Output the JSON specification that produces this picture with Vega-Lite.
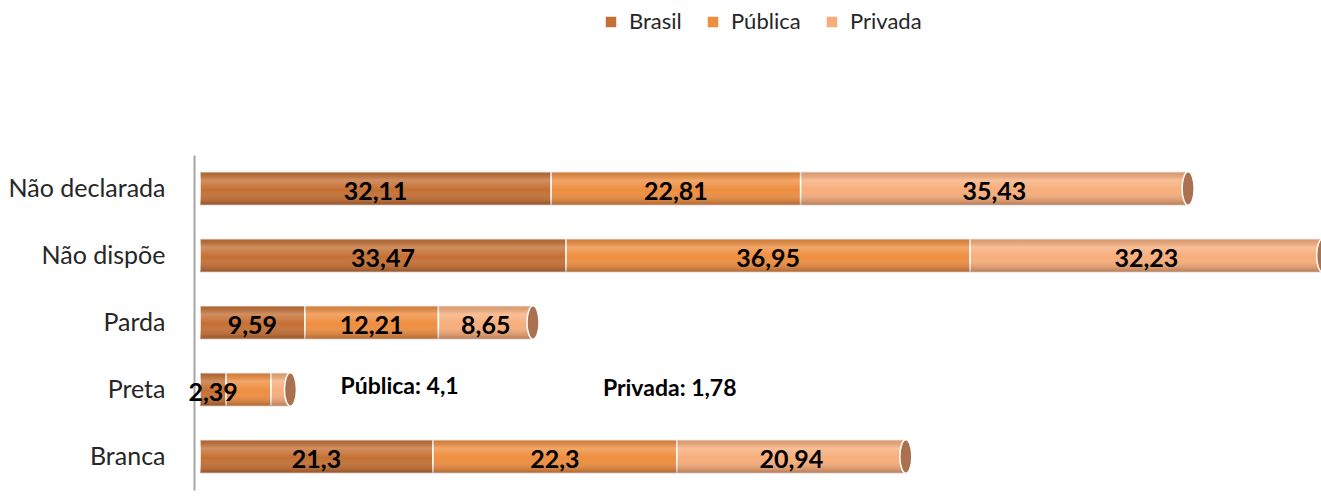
{
  "$schema": "https://vega.github.io/schema/vega-lite/v6.json",
  "width": 1121,
  "height": 335,
  "autosize": {"type": "none"},
  "padding": {"left": 200, "top": 155, "right": 0, "bottom": 6},
  "background": "white",
  "config": {"view": {"stroke": null}, "font": "Lato"},
  "data": {
    "values": [
      {"cat": "Não declarada", "series": "Brasil", "order": 1, "value": 32.11, "label": "32,11"},
      {"cat": "Não declarada", "series": "Pública", "order": 2, "value": 22.81, "label": "22,81"},
      {"cat": "Não declarada", "series": "Privada", "order": 3, "value": 35.43, "label": "35,43"},
      {"cat": "Não dispõe", "series": "Brasil", "order": 1, "value": 33.47, "label": "33,47"},
      {"cat": "Não dispõe", "series": "Pública", "order": 2, "value": 36.95, "label": "36,95"},
      {"cat": "Não dispõe", "series": "Privada", "order": 3, "value": 32.23, "label": "32,23"},
      {"cat": "Parda", "series": "Brasil", "order": 1, "value": 9.59, "label": "9,59"},
      {"cat": "Parda", "series": "Pública", "order": 2, "value": 12.21, "label": "12,21"},
      {"cat": "Parda", "series": "Privada", "order": 3, "value": 8.65, "label": "8,65"},
      {"cat": "Preta", "series": "Brasil", "order": 1, "value": 2.39, "label": "2,39"},
      {"cat": "Preta", "series": "Pública", "order": 2, "value": 4.1, "label": "Pública: 4,1"},
      {"cat": "Preta", "series": "Privada", "order": 3, "value": 1.78, "label": "Privada: 1,78"},
      {"cat": "Branca", "series": "Brasil", "order": 1, "value": 21.3, "label": "21,3"},
      {"cat": "Branca", "series": "Pública", "order": 2, "value": 22.3, "label": "22,3"},
      {"cat": "Branca", "series": "Privada", "order": 3, "value": 20.94, "label": "20,94"}
    ]
  },
  "transform": [
    {"stack": "value", "groupby": ["cat"], "sort": [{"field": "order"}], "as": ["v0", "v1"]},
    {"calculate": "(datum.v0 + datum.v1) / 2", "as": "mid"}
  ],
  "encoding": {
    "y": {
      "field": "cat",
      "type": "nominal",
      "sort": ["Não declarada", "Não dispõe", "Parda", "Preta", "Branca"],
      "scale": {"paddingInner": 0.5, "paddingOuter": 0.25},
      "axis": {
        "title": null,
        "ticks": false,
        "domain": true,
        "domainColor": "#a6a6a6",
        "domainWidth": 2,
        "offset": 6,
        "labelFontSize": 25,
        "labelFont": "Lato",
        "labelColor": "#262626",
        "labelPadding": 29
      }
    }
  },
  "layer": [
    {
      "mark": {"type": "bar", "stroke": "white", "strokeWidth": 1.5},
      "encoding": {
        "x": {"field": "v0", "type": "quantitative", "scale": {"domain": [0, 102.5], "nice": false}, "axis": null},
        "x2": {"field": "v1"},
        "color": {
          "field": "series",
          "type": "nominal",
          "scale": {"domain": ["Brasil", "Pública", "Privada"], "range": ["#c46f33", "#ee8d3e", "#f7ad7a"]},
          "legend": {
            "orient": "none",
            "legendX": 400,
            "legendY": -144,
            "direction": "horizontal",
            "title": null,
            "symbolType": "square",
            "symbolSize": 110,
            "symbolStrokeWidth": 0,
            "labelFontSize": 22,
            "labelFont": "Lato",
            "labelColor": "#262626",
            "columnPadding": 20,
            "labelOffset": 7
          }
        }
      }
    },
    {
      "mark": {
        "type": "bar",
        "strokeWidth": 0,
        "fill": {
          "gradient": "linear", "x1": 0, "y1": 0, "x2": 0, "y2": 1,
          "stops": [
            {"offset": 0, "color": "rgba(0,0,0,0.12)"},
            {"offset": 0.25, "color": "rgba(255,255,255,0.22)"},
            {"offset": 0.55, "color": "rgba(255,255,255,0.0)"},
            {"offset": 1, "color": "rgba(60,20,0,0.35)"}
          ]
        }
      },
      "encoding": {
        "x": {"field": "v0", "type": "quantitative"},
        "x2": {"field": "v1"}
      }
    },
    {
      "transform": [{"filter": "datum.series === 'Privada'"}],
      "mark": {
        "type": "point",
        "filled": true,
        "shape": "M0,-1 A0.36,1 0 1,1 0,1 A0.36,1 0 1,1 0,-1 Z",
        "size": 1120,
        "fill": "#a9714f",
        "stroke": "white",
        "strokeWidth": 1.5,
        "opacity": 1
      },
      "encoding": {"x": {"field": "v1", "type": "quantitative"}}
    },
    {
      "transform": [{"filter": "datum.cat !== 'Preta' || datum.series === 'Brasil'"}],
      "mark": {"type": "text", "fontWeight": "bold", "fontSize": 25, "font": "Lato", "color": "black", "dy": 3},
      "encoding": {"x": {"field": "mid", "type": "quantitative"}, "text": {"field": "label"}}
    },
    {
      "transform": [{"filter": "datum.cat === 'Preta' && datum.series === 'Pública'"}],
      "mark": {"type": "text", "fontWeight": "bold", "fontSize": 23, "font": "Lato", "color": "black", "dx": 151, "dy": -3},
      "encoding": {"x": {"field": "mid", "type": "quantitative"}, "text": {"field": "label"}}
    },
    {
      "transform": [{"filter": "datum.cat === 'Preta' && datum.series === 'Privada'"}],
      "mark": {"type": "text", "fontWeight": "bold", "fontSize": 23, "font": "Lato", "color": "black", "dx": 389, "dy": -1},
      "encoding": {"x": {"field": "mid", "type": "quantitative"}, "text": {"field": "label"}}
    }
  ]
}
